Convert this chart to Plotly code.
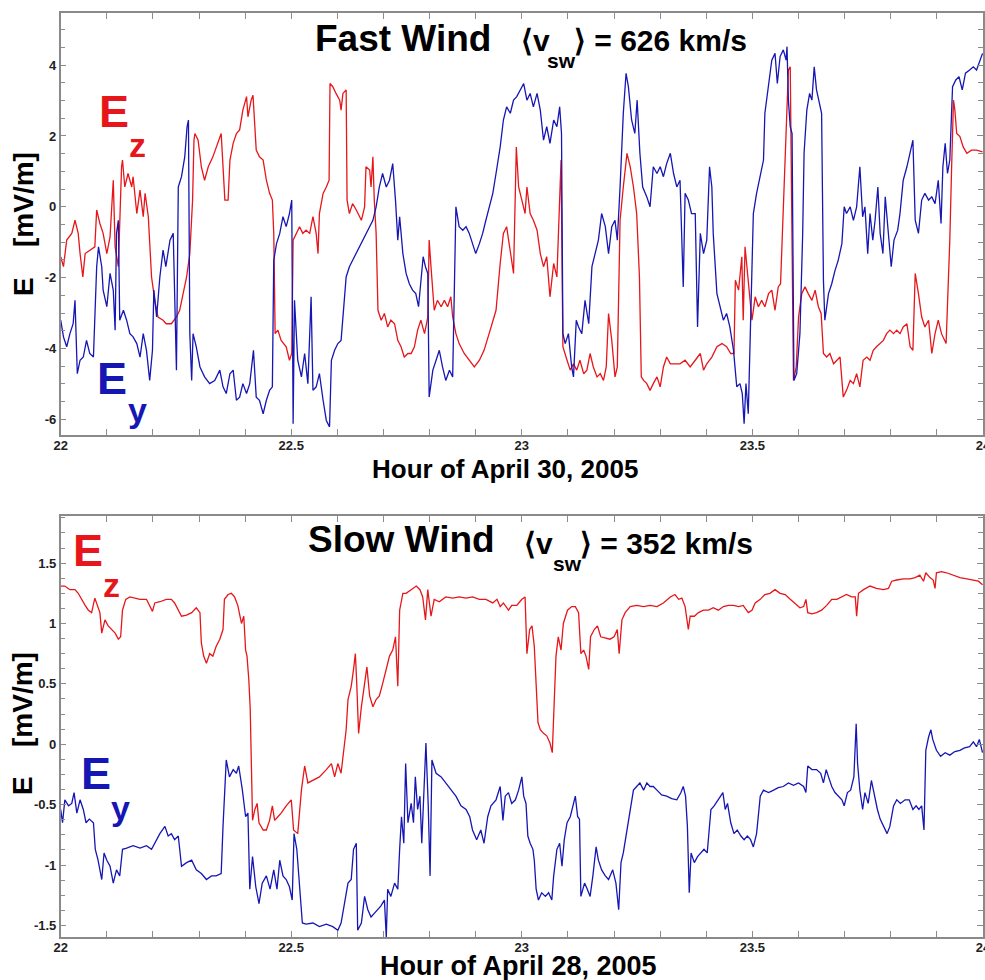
import plotly.graph_objects as go

# ---------------- data ----------------
# Fast wind, April 30 2005 : Ez (red)
fast_t_ez = [
    22.000, 22.006, 22.013, 22.024, 22.031, 22.038, 22.042, 22.048, 22.053, 22.063,
    22.074, 22.078, 22.085, 22.092, 22.100, 22.107, 22.114, 22.118, 22.125, 22.132,
    22.134, 22.139, 22.146, 22.154, 22.157, 22.165, 22.172, 22.179, 22.183, 22.190,
    22.197, 22.204, 22.211, 22.222, 22.229, 22.240, 22.251, 22.258, 22.266, 22.273,
    22.280, 22.286, 22.289, 22.291, 22.298, 22.305, 22.312, 22.320, 22.330, 22.341,
    22.348, 22.356, 22.363, 22.367, 22.374, 22.381, 22.388, 22.395, 22.403, 22.406,
    22.413, 22.417, 22.421, 22.424, 22.431, 22.439, 22.446, 22.453, 22.459, 22.462,
    22.465, 22.471, 22.478, 22.489, 22.496, 22.501, 22.504, 22.511, 22.518, 22.525,
    22.532, 22.540, 22.547, 22.554, 22.558, 22.561, 22.569, 22.576, 22.582, 22.584,
    22.590, 22.597, 22.605, 22.608, 22.612, 22.619, 22.621, 22.626, 22.633, 22.641,
    22.652, 22.659, 22.662, 22.670, 22.673, 22.677, 22.680, 22.684, 22.688, 22.695,
    22.702, 22.709, 22.716, 22.724, 22.731, 22.738, 22.745, 22.753, 22.760, 22.767,
    22.774, 22.781, 22.789, 22.796, 22.799, 22.803, 22.810, 22.817, 22.825, 22.832,
    22.839, 22.846, 22.850, 22.857, 22.864, 22.875, 22.886, 22.897, 22.908, 22.918,
    22.929, 22.937, 22.944,
    22.953, 22.960, 22.967, 22.975, 22.982, 22.988, 22.993, 23.000, 23.007, 23.011,
    23.018, 23.025, 23.033, 23.040, 23.047, 23.054, 23.061, 23.069, 23.076, 23.085,
    23.089, 23.098, 23.105, 23.112, 23.119, 23.126, 23.134, 23.141, 23.148, 23.155,
    23.163, 23.170, 23.177, 23.183, 23.188, 23.195, 23.202, 23.207, 23.213, 23.220,
    23.228, 23.235, 23.242, 23.249, 23.255, 23.259, 23.264, 23.271, 23.278, 23.285,
    23.293, 23.300, 23.307, 23.314, 23.322, 23.332, 23.343, 23.354, 23.365, 23.376,
    23.387, 23.394, 23.401, 23.412, 23.423, 23.434, 23.444, 23.453, 23.460, 23.463,
    23.470, 23.477, 23.480, 23.484, 23.491, 23.499, 23.506, 23.513, 23.520, 23.527,
    23.535, 23.542, 23.549, 23.556, 23.561, 23.566, 23.570, 23.574, 23.578, 23.582,
    23.585, 23.589, 23.595, 23.600, 23.607, 23.614, 23.621, 23.629, 23.636, 23.643,
    23.649, 23.654, 23.661, 23.668, 23.676, 23.683, 23.690, 23.697, 23.704, 23.712,
    23.719, 23.726, 23.733, 23.740, 23.748, 23.755, 23.762, 23.769, 23.777, 23.784,
    23.791, 23.798, 23.806, 23.813, 23.820, 23.827, 23.835, 23.842, 23.848, 23.853,
    23.860, 23.867, 23.874, 23.882, 23.889, 23.896, 23.903, 23.910, 23.920, 23.925,
    23.928, 23.932, 23.936, 23.939, 23.943, 23.950, 23.957, 23.965, 23.975, 23.986,
    23.999,
]
fast_ez = [
    -1.41, -1.69, -0.94, -0.75, -0.38, -0.75, -1.32, -1.98, -1.32, -1.22,
    -1.13, -0.09, -0.47, -0.75, -1.32, -0.85, 0.75, -1.13, -1.69, 1.13,
    1.32, 0.56, 0.94, 0.56, 0.85, -0.19, 0.47, -0.28, 0.38, -0.28,
    -1.98, -2.64, -3.11, -3.20, -3.30, -3.30, -3.11, -2.92, -2.45, -1.98,
    -1.32, 0.19, 1.88, 2.07, 1.88, 1.13, 0.75, 1.13, 1.41, 1.79,
    2.07, 0.19, 0.19, 1.32, 1.79, 2.07, 2.17, 2.73, 3.11, 2.54,
    3.01, 3.15, 2.26, 1.60, 1.41, 1.32, 0.75, 0.38, 0.19, -0.75,
    -3.58, -3.48, -3.77, -3.95, -4.33, -4.14, -0.94, -0.75, -0.56, -0.75,
    -0.66, -0.75, -0.28, -0.75, -1.32, -0.19, 0.38, 0.56, 0.75, 3.48,
    3.39, 3.20, 3.01, 2.73, 3.20, 3.30, 0.19, -0.19, 0.09, -0.09,
    -0.38, 0.00, 1.13, 1.04, 0.56, 1.41, 0.19, -0.75, -2.92, -3.20,
    -3.01, -3.39, -3.20, -3.30, -3.77, -3.95, -4.24, -4.14, -4.14, -3.95,
    -3.48, -3.20, -3.58, -3.11, -0.94, -1.69, -2.92, -2.64, -2.82, -2.64,
    -2.82, -2.54, -3.11, -3.58, -3.86, -4.14, -4.33, -4.52, -4.33, -4.05,
    -3.58, -3.20, -2.92,
    -1.60, -0.75, -0.56, -1.32, -1.88, 1.69, 0.56, 0.19, -0.19, 0.56,
    -0.19, -0.38, -0.66, -1.32, -1.69, -1.41, -2.54, -1.60, -1.98, 1.32,
    -3.95, -4.33, -4.61, -4.43, -4.61, -4.33, -4.71, -4.61, -4.14, -4.52,
    -4.80, -4.71, -4.90, -4.52, -3.01, -3.77, -4.80, -4.52, -0.38, 0.56,
    1.51, 1.13, 0.56, -0.19, -1.98, -4.80, -4.90, -4.99, -5.18, -4.99,
    -4.80, -5.08, -4.52, -4.24, -4.43, -4.43, -4.43, -4.33, -4.52, -4.33,
    -4.14, -4.61, -4.43, -4.24, -3.95, -3.86, -3.95, -4.14, -4.14, -2.07,
    -2.35, -1.41, -3.20, -1.13, -2.17, -3.20, -2.54, -2.82, -2.64, -2.82,
    -2.45, -2.35, -2.92, -2.26, -2.17, -0.38, 0.75, 2.26, 3.86, 3.95,
    0.19, -4.90, -4.52, -3.11, -2.45, -2.26, -2.45, -2.64, -2.35, -2.82,
    -3.01, -4.14, -4.24, -4.14, -4.43, -4.33, -4.24, -5.37, -5.18, -4.90,
    -4.99, -4.71, -5.08, -4.33, -4.24, -4.33, -4.05, -3.95, -3.86, -3.77,
    -3.58, -3.48, -3.58, -3.48, -3.58, -3.39, -3.30, -3.95, -4.05, -1.88,
    -2.45, -3.11, -3.39, -3.20, -4.14, -3.58, -3.20, -3.58, -3.86, -2.07,
    -0.94, 1.13, 3.01, 2.73, 2.07, 1.98, 1.69, 1.51, 1.60, 1.60,
    1.55,
]

# Fast wind : Ey (blue)
fast_t_ey = [
    22.000, 22.006, 22.013, 22.020, 22.027, 22.031, 22.036, 22.042, 22.049, 22.056,
    22.063, 22.071, 22.078, 22.082, 22.089, 22.092, 22.100, 22.107, 22.114, 22.118,
    22.121, 22.125, 22.128, 22.136, 22.143, 22.150, 22.157, 22.165, 22.172, 22.179,
    22.186, 22.193, 22.199, 22.202, 22.208, 22.215, 22.222, 22.228, 22.237, 22.244,
    22.251, 22.255, 22.262, 22.269, 22.274, 22.277, 22.280, 22.284, 22.287, 22.294,
    22.302, 22.312, 22.323, 22.334, 22.345, 22.352, 22.359, 22.367, 22.374, 22.381,
    22.388, 22.395, 22.403, 22.410, 22.418, 22.424, 22.431, 22.439, 22.446, 22.453,
    22.459, 22.462, 22.468, 22.475, 22.482, 22.489, 22.496, 22.501, 22.504, 22.507,
    22.514, 22.522, 22.529, 22.536, 22.543, 22.547, 22.554, 22.561, 22.569, 22.576,
    22.583, 22.587, 22.594, 22.601, 22.608, 22.619, 22.626, 22.633, 22.641, 22.648,
    22.655, 22.662, 22.670, 22.677, 22.684, 22.691, 22.698, 22.706, 22.713, 22.720,
    22.726, 22.731, 22.735, 22.742, 22.749, 22.756, 22.763, 22.770, 22.776, 22.781,
    22.786, 22.791, 22.796, 22.799, 22.807, 22.814, 22.821, 22.828, 22.835, 22.843,
    22.850, 22.857, 22.864, 22.872, 22.879, 22.886, 22.893, 22.900, 22.908, 22.915,
    22.922, 22.929, 22.937, 22.944,
    22.953, 22.960, 22.967, 22.975, 22.982, 22.989, 22.996, 23.004, 23.011, 23.018,
    23.025, 23.033, 23.040, 23.047, 23.054, 23.061, 23.069, 23.076, 23.082, 23.086,
    23.089, 23.094, 23.101, 23.108, 23.112, 23.118, 23.123, 23.130, 23.137, 23.145,
    23.152, 23.159, 23.166, 23.173, 23.181, 23.188, 23.195, 23.202, 23.207, 23.213,
    23.220, 23.226, 23.231, 23.238, 23.245, 23.250, 23.256, 23.262, 23.271, 23.278,
    23.285, 23.293, 23.300, 23.307, 23.314, 23.322, 23.329, 23.336, 23.343, 23.350,
    23.354, 23.361, 23.368, 23.376, 23.381, 23.387, 23.394, 23.401, 23.407, 23.412,
    23.415, 23.423, 23.430, 23.437, 23.444, 23.451, 23.459, 23.466, 23.473, 23.478,
    23.482, 23.486, 23.491, 23.496, 23.502, 23.509, 23.517, 23.524, 23.527, 23.535,
    23.542, 23.549, 23.554, 23.560, 23.567, 23.573, 23.575, 23.578, 23.582, 23.586,
    23.590, 23.596, 23.603, 23.609, 23.612, 23.618, 23.624, 23.629, 23.634, 23.639,
    23.645, 23.650, 23.654, 23.657, 23.665, 23.672, 23.679, 23.686, 23.694, 23.699,
    23.704, 23.712, 23.719, 23.726, 23.733, 23.739, 23.744, 23.750, 23.755, 23.761,
    23.766, 23.772, 23.777, 23.783, 23.788, 23.795, 23.801, 23.807, 23.815, 23.820,
    23.827, 23.835, 23.842, 23.848, 23.853, 23.860, 23.867, 23.874, 23.882, 23.889,
    23.896, 23.903, 23.909, 23.913, 23.918, 23.923, 23.928, 23.934, 23.941, 23.948,
    23.955, 23.962, 23.971, 23.979, 23.986, 23.993, 23.999,
]
fast_ey = [
    -3.20, -3.67, -3.95, -3.58, -3.30, -2.64, -4.71, -4.33, -4.24, -3.77,
    -4.14, -4.24, -1.69, -1.13, -1.69, -2.35, -2.82, -1.88, -2.35, -3.48,
    -0.75, -0.38, -3.20, -2.92, -3.20, -3.58, -3.67, -3.86, -4.24, -3.58,
    -4.05, -4.90, -4.05, -2.35, -3.11, -1.98, -1.22, -1.69, -0.94, -0.75,
    -4.61, 0.56, 0.85, 1.41, 2.26, 2.45, -3.58, -4.90, -3.58, -3.95,
    -4.52, -4.80, -4.99, -4.90, -4.61, -5.08, -5.27, -4.71, -4.61, -5.46,
    -5.37, -4.99, -5.27, -4.99, -4.05, -5.37, -5.46, -5.84, -5.46, -5.18,
    -5.08, -1.51, -1.04, -0.75, -0.28, -0.56, -0.19, 0.19, -6.12, -2.64,
    -4.33, -4.80, -4.14, -4.99, -2.54, -5.18, -5.08, -4.71, -5.46, -6.03,
    -6.21, -4.33, -4.05, -3.86, -3.77, -1.98, -1.69, -1.51, -1.32, -1.13,
    -0.94, -0.75, -0.56, -0.38, 0.00, 0.56, 0.94, 0.56, 0.75, 1.22,
    0.19, -0.94, -0.28, -1.32, -1.88, -2.17, -2.35, -2.45, -2.82, -1.98,
    -1.41, -1.69, -1.88, -5.37, -4.61, -4.33, -4.05, -4.52, -4.90, -4.61,
    -4.80, 0.00, -0.56, -0.66, -0.56, -0.75, -1.04, -1.32, -1.04, -0.75,
    -0.38, 0.00, 0.38, 0.94,
    1.69, 2.45, 2.82, 2.64, 3.01, 3.11, 3.30, 3.48, 3.01, 3.20,
    2.82, 3.20, 2.73, 1.88, 2.26, 1.79, 2.45, 2.26, 2.82, 2.07,
    -3.58, -3.86, -3.58, -4.52, -4.80, -3.20, -3.39, -3.58, -2.64, -3.30,
    -1.69, -1.32, -0.94, -0.19, -0.56, -1.32, -0.56, -0.38, -0.94, 0.56,
    2.64, 3.77, 3.39, 2.45, 2.07, 3.01, 1.51, 0.56, 0.28, 0.00,
    1.13, 0.94, 1.13, 0.85, 1.22, 1.51, 0.94, 0.56, 0.75, -2.26,
    0.38, 0.19, -0.19, -0.19, -3.39, -0.75, -1.32, -0.94, 1.13, 0.56,
    -0.75, -2.45, -2.82, -3.20, -3.01, -3.39, -4.05, -5.08, -4.99, -5.27,
    -6.12, -4.99, -5.84, -3.58, -0.19, 0.38, 0.94, 1.32, 2.64, 3.48,
    4.14, 4.33, 3.48, 4.24, 4.43, 4.14, 4.52, 3.01, 2.26, 2.07,
    -4.90, -4.71, -3.58, -0.75, 1.51, 2.73, 3.20, 3.01, 3.95, 3.30,
    2.92, 2.64, -2.07, -3.20, -2.45, -2.17, -1.80, -1.51, -1.04, 0.00,
    -0.19, 0.00, -0.38, 0.00, 1.13, -0.28, 0.00, -1.32, -0.19, -0.94,
    -0.38, 0.56, -0.75, -1.32, 0.28, -0.75, -1.69, -0.94, -0.66, -0.19,
    0.75, 1.13, 1.51, 1.88, -0.38, -0.75, 0.19, 0.38, 0.19, 0.28,
    0.09, 0.75, -0.47, 1.13, 1.79, 0.94, 1.32, 3.39, 3.58, 3.67,
    3.30, 3.77, 3.86, 3.95, 3.86, 4.14, 4.33,
]

# Slow wind, April 28 2005 : Ez (red)
slow_t_ez = [
    22.000, 22.009, 22.020, 22.031, 22.038, 22.045, 22.053, 22.060, 22.067, 22.074,
    22.079, 22.085, 22.089, 22.096, 22.103, 22.110, 22.118, 22.125, 22.130, 22.134,
    22.141, 22.150, 22.161, 22.172, 22.186, 22.193, 22.199, 22.204, 22.215, 22.229,
    22.240, 22.247, 22.255, 22.262, 22.273, 22.284, 22.294, 22.302, 22.305, 22.310,
    22.316, 22.323, 22.330, 22.337, 22.345, 22.352, 22.355, 22.363, 22.370, 22.377,
    22.384, 22.392, 22.397, 22.401, 22.404, 22.408, 22.411, 22.416, 22.421, 22.426,
    22.430, 22.439, 22.446, 22.453, 22.459, 22.464, 22.471, 22.478, 22.489, 22.500,
    22.505, 22.514, 22.522, 22.529, 22.536, 22.547, 22.561, 22.576, 22.587, 22.594,
    22.601, 22.608, 22.613, 22.619, 22.623, 22.630, 22.635, 22.639, 22.642, 22.646,
    22.652, 22.659, 22.664, 22.670, 22.677, 22.684, 22.691, 22.698, 22.706, 22.713,
    22.720, 22.726, 22.731, 22.735, 22.742, 22.749, 22.760, 22.771, 22.779, 22.785,
    22.791, 22.796, 22.803, 22.810, 22.821, 22.835, 22.850, 22.864, 22.879, 22.893,
    22.908, 22.922, 22.937, 22.946, 22.953, 22.960, 22.971, 22.978, 22.989, 23.000,
    23.007, 23.011, 23.017, 23.022, 23.027, 23.031, 23.035, 23.040, 23.047, 23.054,
    23.061, 23.066, 23.070, 23.074, 23.079, 23.085, 23.090, 23.099, 23.108, 23.116,
    23.123, 23.128, 23.134, 23.139, 23.145, 23.149, 23.157, 23.164, 23.171, 23.181,
    23.191, 23.200, 23.207, 23.211, 23.217, 23.224, 23.235, 23.249, 23.264, 23.278,
    23.293, 23.307, 23.322, 23.332, 23.340, 23.347, 23.354, 23.361, 23.365, 23.374,
    23.383, 23.394, 23.405, 23.415, 23.426, 23.437, 23.448, 23.459, 23.470, 23.480,
    23.491, 23.499, 23.506, 23.517, 23.527, 23.538, 23.549, 23.560, 23.571, 23.582,
    23.592, 23.603, 23.611, 23.616, 23.620, 23.629, 23.639, 23.650, 23.661, 23.672,
    23.683, 23.694, 23.704, 23.715, 23.723, 23.726, 23.730, 23.741, 23.755, 23.769,
    23.784, 23.795, 23.802, 23.813, 23.827, 23.842, 23.853, 23.863, 23.871, 23.876,
    23.885, 23.892, 23.896, 23.899, 23.910, 23.921, 23.936, 23.950, 23.965, 23.979,
    23.990, 23.999,
]
slow_ez = [
    1.31, 1.31, 1.28, 1.28, 1.25, 1.20, 1.15, 1.11, 1.09, 1.21,
    1.15, 1.09, 0.92, 1.03, 0.98, 0.95, 0.92, 0.87, 0.89, 1.11,
    1.20, 1.22, 1.21, 1.20, 1.20, 1.15, 1.10, 1.17, 1.18, 1.20,
    1.20, 1.17, 1.11, 1.06, 1.07, 1.09, 1.13, 1.09, 0.84, 0.73,
    0.67, 0.75, 0.73, 0.81, 0.87, 0.95, 1.20, 1.24, 1.25, 1.22,
    1.15, 1.00, 1.06, 0.78, 0.73, 0.53, 0.29, -0.63, -0.54, -0.49,
    -0.65, -0.71, -0.71, -0.63, -0.51, -0.63, -0.60, -0.57, -0.51, -0.46,
    -0.71, -0.74, -0.38, -0.18, -0.32, -0.30, -0.27, -0.21, -0.16, -0.27,
    -0.16, -0.24, -0.05, 0.12, 0.37, 0.48, 0.62, 0.75, 0.50, 0.09,
    0.31, 0.53, 0.64, 0.40, 0.31, 0.37, 0.40, 0.50, 0.62, 0.73,
    0.78, 0.89, 0.48, 1.11, 1.25, 1.25, 1.28, 1.31, 1.28, 1.22,
    1.03, 1.28, 1.06, 1.20, 1.18, 1.22, 1.21, 1.22, 1.21, 1.22,
    1.20, 1.20, 1.17, 1.20, 1.14, 1.17, 1.11, 1.15, 1.15, 1.20,
    1.22, 0.75, 0.95, 0.98, 0.81, 0.51, 0.18, 0.12, 0.09, 0.07,
    0.01, -0.07, 0.40, 0.73, 0.89, 0.78, 1.00, 1.11, 1.14, 1.14,
    1.09, 0.75, 0.78, 0.73, 0.62, 0.89, 0.95, 0.98, 0.89, 0.88,
    0.87, 0.89, 0.95, 0.75, 1.03, 1.09, 1.14, 1.15, 1.14, 1.15,
    1.14, 1.17, 1.22, 1.24, 1.20, 1.21, 1.14, 0.95, 1.06, 1.06,
    1.09, 1.11, 1.11, 1.13, 1.11, 1.14, 1.15, 1.15, 1.14, 1.15,
    1.09, 1.11, 1.17, 1.20, 1.24, 1.25, 1.28, 1.25, 1.24, 1.20,
    1.17, 1.13, 1.14, 1.20, 1.09, 1.08, 1.09, 1.11, 1.15, 1.20,
    1.20, 1.22, 1.24, 1.22, 1.22, 1.06, 1.25, 1.28, 1.31, 1.29,
    1.28, 1.29, 1.35, 1.36, 1.37, 1.37, 1.38, 1.40, 1.35, 1.42,
    1.38, 1.36, 1.29, 1.42, 1.43, 1.42, 1.40, 1.38, 1.37, 1.36,
    1.35, 1.32,
]

# Slow wind : Ey (blue)
slow_t_ey = [
    22.000, 22.004, 22.009, 22.017, 22.024, 22.029, 22.035, 22.042, 22.049, 22.055,
    22.062, 22.071, 22.075, 22.081, 22.089, 22.094, 22.100, 22.107, 22.114, 22.121,
    22.128, 22.134, 22.143, 22.157, 22.172, 22.186, 22.197, 22.204, 22.215, 22.226,
    22.233, 22.240, 22.247, 22.255, 22.262, 22.273, 22.284, 22.294, 22.305, 22.316,
    22.327, 22.337, 22.348, 22.352, 22.355, 22.359, 22.366, 22.374, 22.381, 22.386,
    22.394, 22.401, 22.406, 22.410, 22.416, 22.423, 22.430, 22.437, 22.446, 22.454,
    22.462, 22.469, 22.475, 22.482, 22.489, 22.496, 22.502, 22.506, 22.512, 22.518,
    22.524, 22.532, 22.547, 22.561, 22.576, 22.590, 22.601, 22.608, 22.615, 22.623,
    22.630, 22.635, 22.641, 22.644, 22.652, 22.659, 22.666, 22.673, 22.680, 22.687,
    22.694, 22.702, 22.706, 22.709, 22.716, 22.724, 22.731, 22.735, 22.739, 22.744,
    22.748, 22.753, 22.760, 22.765, 22.769, 22.774, 22.779, 22.783, 22.789, 22.792,
    22.797, 22.801, 22.805, 22.814, 22.825, 22.835, 22.846, 22.857, 22.868, 22.879,
    22.887, 22.893, 22.902, 22.911, 22.918, 22.926, 22.933, 22.944, 22.953, 22.959,
    22.964, 22.971, 22.978, 22.986, 22.993, 23.000, 23.004, 23.009, 23.013, 23.018,
    23.024, 23.027, 23.031, 23.036, 23.043, 23.051, 23.058, 23.065, 23.069, 23.076,
    23.082, 23.087, 23.092, 23.098, 23.105, 23.111, 23.116, 23.121, 23.125, 23.128,
    23.136, 23.142, 23.148, 23.154, 23.161, 23.166, 23.173, 23.181, 23.188, 23.197,
    23.204, 23.210, 23.215, 23.220, 23.228, 23.235, 23.242, 23.249, 23.256, 23.264,
    23.271, 23.278, 23.285, 23.293, 23.303, 23.314, 23.325, 23.336, 23.345, 23.350,
    23.355, 23.359, 23.363, 23.367, 23.374, 23.381, 23.388, 23.395, 23.402, 23.410,
    23.417, 23.426, 23.436, 23.441, 23.446, 23.453, 23.460, 23.467, 23.475, 23.482,
    23.489, 23.496, 23.502, 23.509, 23.517, 23.524, 23.535, 23.546, 23.556, 23.567,
    23.578, 23.589, 23.600, 23.611, 23.616, 23.620, 23.629, 23.639, 23.648, 23.654,
    23.660, 23.665, 23.672, 23.679, 23.686, 23.694, 23.699, 23.706, 23.713, 23.720,
    23.725, 23.728, 23.733, 23.739, 23.744, 23.751, 23.758, 23.766, 23.771, 23.777,
    23.784, 23.792, 23.798, 23.806, 23.813, 23.821, 23.831, 23.840, 23.848, 23.855,
    23.861, 23.867, 23.872, 23.876, 23.882, 23.887, 23.891, 23.899, 23.908, 23.918,
    23.928, 23.939, 23.950, 23.960, 23.971, 23.979, 23.986, 23.992, 23.999,
]
slow_ey = [
    -0.54, -0.65, -0.46, -0.51, -0.49, -0.40, -0.57, -0.46, -0.54, -0.65,
    -0.62, -0.65, -0.87, -0.96, -1.12, -0.90, -0.96, -1.01, -1.15, -1.04,
    -1.09, -0.87, -0.86, -0.84, -0.86, -0.84, -0.87, -0.82, -0.74, -0.68,
    -0.76, -0.74, -0.79, -0.76, -1.01, -0.98, -0.96, -1.04, -1.07, -1.12,
    -1.09, -1.09, -1.07, -0.68, -0.38, -0.13, -0.27, -0.21, -0.24, -0.18,
    -0.38, -0.60, -0.57, -1.20, -0.93, -1.18, -1.32, -1.15, -1.09, -1.20,
    -1.04, -1.20, -0.96, -1.09, -1.12, -1.18, -1.29, -0.74, -0.87, -1.20,
    -1.48, -1.49, -1.48, -1.51, -1.49, -1.51, -1.54, -1.48, -1.32, -1.15,
    -1.12, -0.87, -0.82, -1.54, -1.48, -1.26, -1.37, -1.43, -1.40, -1.37,
    -1.34, -1.29, -1.60, -1.20, -1.26, -1.15, -1.20, -0.87, -0.60, -0.82,
    -0.16, -0.65, -0.49, -0.65, -0.27, -0.54, -0.43, -0.82, -0.21, 0.01,
    -0.51, -1.09, -0.13, -0.24, -0.27, -0.32, -0.38, -0.43, -0.51, -0.54,
    -0.60, -0.71, -0.79, -0.71, -0.82, -0.60, -0.51, -0.46, -0.35, -0.63,
    -0.43, -0.40, -0.49, -0.46, -0.38, -0.27, -0.43, -0.49, -0.76, -0.82,
    -0.87, -0.96, -1.20, -1.29, -1.23, -1.26, -1.23, -1.29, -1.09, -0.87,
    -0.82, -1.01, -0.79, -0.65, -0.60, -0.51, -0.43, -0.60, -0.62, -1.26,
    -1.15, -1.20, -1.26, -1.09, -0.85, -0.96, -1.04, -1.09, -1.12, -1.04,
    -1.15, -1.37, -0.98, -0.90, -0.71, -0.54, -0.38, -0.35, -0.32, -0.38,
    -0.32, -0.35, -0.35, -0.38, -0.42, -0.43, -0.45, -0.46, -0.40, -0.35,
    -0.43, -0.68, -1.23, -0.90, -0.98, -0.93, -0.90, -0.87, -0.90, -0.54,
    -0.51, -0.46, -0.40, -0.54, -0.49, -0.65, -0.74, -0.71, -0.76, -0.79,
    -0.76, -0.79, -0.85, -0.74, -0.43, -0.38, -0.40, -0.38, -0.36, -0.35,
    -0.32, -0.34, -0.32, -0.35, -0.40, -0.18, -0.21, -0.21, -0.24, -0.32,
    -0.21, -0.27, -0.35, -0.40, -0.43, -0.46, -0.51, -0.40, -0.38, -0.27,
    0.17, -0.16, -0.38, -0.54, -0.40, -0.49, -0.30, -0.46, -0.54, -0.62,
    -0.68, -0.74, -0.68, -0.51, -0.46, -0.49, -0.46, -0.46, -0.54, -0.51,
    -0.54, -0.51, -0.71, -0.05, 0.06, 0.12, 0.04, -0.05, -0.10, -0.07,
    -0.09, -0.06, -0.05, -0.03, -0.02, 0.02, -0.02, 0.04, -0.07,
]

# axis ticks / labels
x_tickvals = [22, 22.5, 23, 23.5, 24]
x_ticktext = ["22", "22.5", "23", "23.5", "24"]
fast_y_tickvals = [-6, -4, -2, 0, 2, 4]
fast_y_ticktext = ["-6", "-4", "-2", "0", "2", "4"]
slow_y_tickvals = [-1.5, -1, -0.5, 0, 0.5, 1, 1.5]
slow_y_ticktext = ["-1.5", "-1", "-0.5", "0", "0.5", "1", "1.5"]

# ---------------- figure ----------------
W, H = 985, 980
RED = "rgb(230,22,26)"
BLUE = "rgb(22,22,180)"
FRAME = "#8a8a8a"
FONT = "Liberation Sans"


def px(x):
    return x / W


def py(y):
    return 1 - y / H


fig = go.Figure()
fig.add_trace(go.Scatter(x=fast_t_ez, y=fast_ez, mode="lines", line=dict(color=RED, width=1.3),
                         xaxis="x", yaxis="y", showlegend=False, hoverinfo="skip"))
fig.add_trace(go.Scatter(x=fast_t_ey, y=fast_ey, mode="lines", line=dict(color=BLUE, width=1.3),
                         xaxis="x", yaxis="y", showlegend=False, hoverinfo="skip"))
fig.add_trace(go.Scatter(x=slow_t_ez, y=slow_ez, mode="lines", line=dict(color=RED, width=1.3),
                         xaxis="x2", yaxis="y2", showlegend=False, hoverinfo="skip"))
fig.add_trace(go.Scatter(x=slow_t_ey, y=slow_ey, mode="lines", line=dict(color=BLUE, width=1.3),
                         xaxis="x2", yaxis="y2", showlegend=False, hoverinfo="skip"))

tickfont = dict(family=FONT, size=13, color="#222", weight="bold")


def xaxis_style(anchor):
    return dict(domain=[px(60.7), px(983)], range=[22, 24], anchor=anchor,
                tickmode="array", tickvals=x_tickvals, ticktext=x_ticktext,
                ticks="inside", ticklen=6, tickcolor=FRAME, tickwidth=1,
                showline=True, linecolor=FRAME, linewidth=1.5, mirror="ticks",
                showgrid=False, zeroline=False, tickfont=tickfont,
                ticklabeloverflow="allow", automargin=False, ticklabelstandoff=-2,
                minor=dict(dtick=0.1, tick0=22, ticks="inside", ticklen=6,
                           tickcolor=FRAME, showgrid=False))


def yaxis_style(anchor, dom, rng, tv, tt, minor_dt):
    return dict(domain=dom, range=rng, anchor=anchor,
                tickmode="array", tickvals=tv, ticktext=tt,
                ticks="inside", ticklen=6, tickcolor=FRAME, tickwidth=1,
                showline=True, linecolor=FRAME, linewidth=1.5, mirror="ticks",
                showgrid=False, zeroline=False, tickfont=tickfont,
                ticklabeloverflow="allow", automargin=False,
                minor=dict(dtick=minor_dt, tick0=0, ticks="inside", ticklen=5,
                           tickcolor=FRAME, showgrid=False))


fig.update_layout(
    width=W, height=H, margin=dict(l=0, r=0, t=0, b=0, autoexpand=False),
    paper_bgcolor="white", plot_bgcolor="white",
    xaxis=xaxis_style("y"),
    yaxis=yaxis_style("x", [py(435), py(13)], [-6.44, 5.47],
                      fast_y_tickvals, fast_y_ticktext, 0.5),
    xaxis2=xaxis_style("y2"),
    yaxis2=yaxis_style("x2", [py(937), py(516)], [-1.596, 1.89],
                       slow_y_tickvals, slow_y_ticktext, 0.125),
)

ann = []


def add_text(text, x, y, size, color="black", angle=0, xanchor="center", bold=True):
    ann.append(dict(text=text, x=px(x), y=py(y), xref="paper", yref="paper",
                    xanchor=xanchor, yanchor="middle", showarrow=False, textangle=angle,
                    font=dict(family=FONT, size=size, color=color,
                              weight="bold" if bold else "normal")))


# panel titles
add_text("Fast Wind", 403, 38, 37)
add_text("\u27e8v", 519, 41, 30, xanchor="left")
add_text("sw", 545, 61, 21, xanchor="left")
add_text("\u27e9 = 626 km/s", 572, 41, 30, xanchor="left")

add_text("Slow Wind", 401, 539, 37)
add_text("\u27e8v", 522, 543, 30, xanchor="left")
add_text("sw", 551, 563, 21, xanchor="left")
add_text("\u27e9 = 352 km/s", 578, 543, 30, xanchor="left")

# component labels
add_text("E", 113.5, 111.5, 45, RED)
add_text("z", 137, 145, 34, RED)
add_text("E", 111.5, 378.5, 45, BLUE)
add_text("y", 137.5, 410, 34, BLUE)

add_text("E", 88, 550, 45, RED)
add_text("z", 111.5, 585, 34, RED)
add_text("E", 96, 773.5, 45, BLUE)
add_text("y", 120, 808, 34, BLUE)

# y-axis labels
add_text("E", 23, 287, 28, angle=-90)
add_text("[mV/m]", 23, 200, 28, angle=-90)
add_text("E", 22, 786, 28, angle=-90)
add_text("[mV/m]", 22, 700, 28, angle=-90)

# x-axis labels
add_text("Hour of April 30, 2005", 505, 469, 26)
add_text("Hour of April 28, 2005", 518, 966, 27)

fig.update_layout(annotations=ann)
fig.write_html("out.html", config={"displayModeBar": False},
               post_script="document.body.style.margin='0';document.body.style.overflow='hidden';")
